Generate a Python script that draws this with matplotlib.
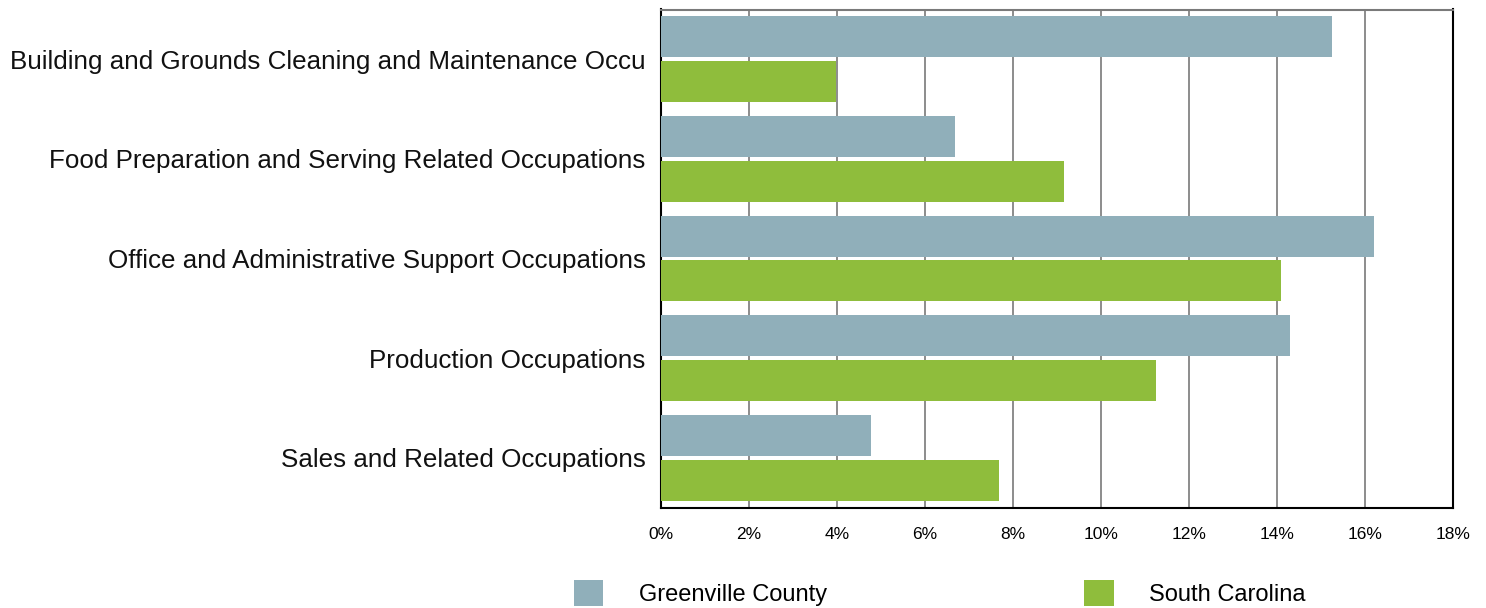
import matplotlib.pyplot as plt
import numpy as np
from matplotlib.ticker import FuncFormatter

plt.rcParams["font.family"] = ["Liberation Sans", "DejaVu Sans"]

categories = [
    "Building and Grounds Cleaning and Maintenance Occu",
    "Food Preparation and Serving Related Occupations",
    "Office and Administrative Support Occupations",
    "Production Occupations",
    "Sales and Related Occupations",
]
greenville = [15.25, 6.68, 16.2, 14.3, 4.77]
south_carolina = [3.98, 9.16, 14.09, 11.25, 7.68]
series_labels = ["Greenville County", "South Carolina"]

GRAY = "#90AFBA"
GREEN = "#8FBD3C"

fig = plt.figure(figsize=(14.86, 6.08), dpi=100)
ax = fig.add_axes([661 / 1486, 1 - 507.5 / 608, (1453 - 661) / 1486, (507.5 - 9.5) / 608])

y = np.arange(len(categories))
h = 0.41
b1 = ax.barh(y - 0.225, greenville, height=h, color=GRAY, zorder=3, label=series_labels[0])
b2 = ax.barh(y + 0.225, south_carolina, height=h, color=GREEN, zorder=3, label=series_labels[1])

ax.set_xlim(0, 18)
ax.set_ylim(len(categories) - 0.5, -0.5)
ax.set_xticks(np.arange(0, 19, 2))
ax.xaxis.set_major_formatter(FuncFormatter(lambda v, _: f"{v:.0f}%"))
ax.set_yticks(y)
ax.set_yticklabels(categories, fontsize=18.7, color="#111111")
ax.tick_params(axis="y", length=0, pad=11)
ax.tick_params(axis="x", length=0, pad=14, labelsize=12.5)

ax.grid(axis="x", color="#6e6e6e", linewidth=1.1, zorder=0)
ax.set_axisbelow(True)
for side in ("left", "bottom", "right"):
    ax.spines[side].set_color("black")
    ax.spines[side].set_linewidth(1.5)
ax.spines["top"].set_color("#7a7a7a")
ax.spines["top"].set_linewidth(1.5)

fig.legend(handles=[b1, b2], labels=series_labels, loc="center",
           bbox_to_anchor=(939.5 / 1486, 1 - 593 / 608), ncol=2, frameon=False,
           fontsize=17, handlelength=1.25, handleheight=1.35,
           handletextpad=1.5, columnspacing=10.9, borderpad=0)

fig.savefig("out.png", dpi=100)
